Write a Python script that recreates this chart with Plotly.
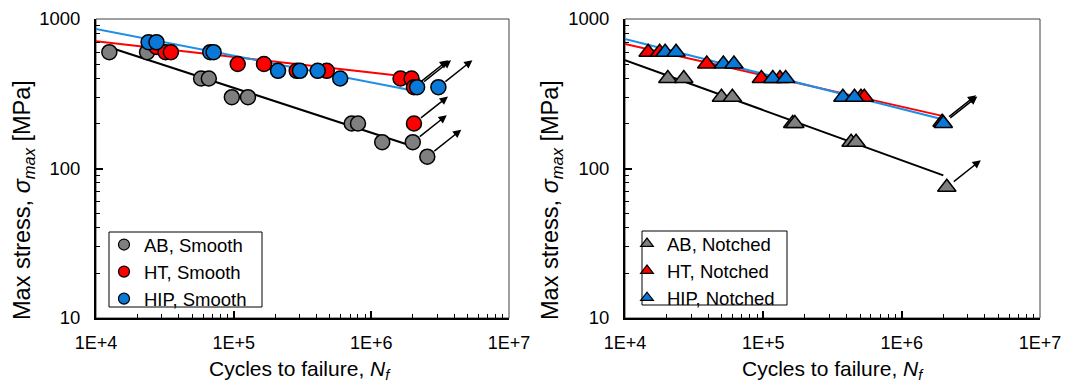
import numpy as np
import plotly.graph_objects as go

# ---------------- data ----------------
# Left panel: smooth specimens
ab_s_N = [12500, 23500, 58000, 66000, 97000, 127000, 720000, 800000, 1200000, 2000000, 2550000]
ab_s_S = [600, 600, 400, 400, 300, 300, 200, 200, 150, 150, 120]
ab_s_run = [False, False, False, False, False, False, False, False, False, True, True]

ht_s_N = [27500, 32000, 35000, 107000, 166000, 287000, 475000, 1630000, 1960000, 2040000, 2040000]
ht_s_S = [650, 600, 600, 500, 500, 450, 450, 400, 400, 350, 200]
ht_s_run = [False, False, False, False, False, False, False, False, False, True, True]

hip_s_N = [24100, 27500, 67600, 71500, 210000, 303000, 408000, 594000, 2150000, 3070000]
hip_s_S = [700, 700, 600, 600, 450, 450, 450, 400, 350, 350]
hip_s_run = [False, False, False, False, False, False, False, False, True, True]

# fitted lines (endpoints) left
ab_s_fitN = [12000, 2000000]
ab_s_fitS = [655, 141]
ht_s_fitN = [10000, 2000000]
ht_s_fitS = [710, 408]
hip_s_fitN = [10000, 2040000]
hip_s_fitS = [857, 331]

# Right panel: notched specimens
ab_n_N = [20400, 26600, 49800, 59700, 163000, 169000, 431000, 468000, 2120000]
ab_n_S = [400, 400, 300, 300, 200, 200, 150, 150, 75]
ab_n_run = [False] * 8 + [True]

ht_n_N = [14700, 17800, 39000, 96800, 132000, 508000, 537000, 1960000]
ht_n_S = [600, 600, 500, 400, 400, 300, 300, 204]
ht_n_run = [False] * 7 + [True]

hip_n_N = [19500, 23400, 51400, 61300, 117000, 145000, 376000, 456000, 2000000]
hip_n_S = [600, 600, 500, 500, 400, 400, 300, 300, 200]
hip_n_run = [False] * 8 + [True]

ab_n_fitN = [10000, 2000000]
ab_n_fitS = [531, 90]
ht_n_fitN = [10000, 2000000]
ht_n_fitS = [680, 224]
hip_n_fitN = [10000, 2000000]
hip_n_fitS = [735, 213]

x_tickvals = [1e4, 1e5, 1e6, 1e7]
x_ticktext = ["1E+4", "1E+5", "1E+6", "1E+7"]
y_tickvals = [10, 100, 1000]
y_ticktext = ["10", "100", "1000"]

# ---------------- styling ----------------
# The page body has an 8px margin, so the figure is sized to fill the rest of the window
OFF = 8
W, H = 1069 - OFF, 384 - OFF
FONT = "Liberation Sans, Arial, sans-serif"
GRAY, RED, BLUE = "#7f7f7f", "#ff0000", "#0a78d6"
BLUE_LINE = "#1e8ee6"

def fx(px):  # window pixel -> paper fraction
    return (px - OFF) / W

def fy(py):
    return 1 - (py - OFF) / H

xdom1 = [fx(96), fx(509)]
xdom2 = [fx(625), fx(1040)]
ydom = [fy(318), fy(19)]

fig = go.Figure()

def add_line(N, S, color, xa, ya):
    fig.add_trace(go.Scatter(x=N, y=S, mode="lines", line=dict(color=color, width=2),
                             xaxis=xa, yaxis=ya, showlegend=False, hoverinfo="skip"))

def add_pts(N, S, color, symbol, size, xa, ya):
    fig.add_trace(go.Scatter(x=N, y=S, mode="markers",
                             marker=dict(color=color, symbol=symbol, size=size,
                                         line=dict(color="black", width=1.5)),
                             xaxis=xa, yaxis=ya, showlegend=False))

def add_legend_entry(name, color, symbol, size, legend):
    fig.add_trace(go.Scatter(x=[None], y=[None], mode="markers", name=name,
                             marker=dict(color=color, symbol=symbol, size=size,
                                         line=dict(color="black", width=1.2)),
                             legend=legend))

# left panel
add_line(ab_s_fitN, ab_s_fitS, "black", "x", "y")
add_line(ht_s_fitN, ht_s_fitS, RED, "x", "y")
add_line(hip_s_fitN, hip_s_fitS, BLUE_LINE, "x", "y")
add_pts(ab_s_N, ab_s_S, GRAY, "circle", 15, "x", "y")
add_pts(ht_s_N, ht_s_S, RED, "circle", 15, "x", "y")
add_pts(hip_s_N, hip_s_S, BLUE, "circle", 15, "x", "y")

# right panel
add_line(ab_n_fitN, ab_n_fitS, "black", "x2", "y2")
add_line(ht_n_fitN, ht_n_fitS, RED, "x2", "y2")
add_line(hip_n_fitN, hip_n_fitS, BLUE_LINE, "x2", "y2")
add_pts(ab_n_N, ab_n_S, GRAY, "triangle-up", 16, "x2", "y2")
add_pts(ht_n_N, ht_n_S, RED, "triangle-up", 16, "x2", "y2")
add_pts(hip_n_N, hip_n_S, BLUE, "triangle-up", 16, "x2", "y2")

# legends
add_legend_entry("AB, Smooth", GRAY, "circle", 11, "legend")
add_legend_entry("HT, Smooth", RED, "circle", 11, "legend")
add_legend_entry("HIP, Smooth", BLUE, "circle", 11, "legend")
add_legend_entry("AB, Notched", GRAY, "triangle-up", 11, "legend2")
add_legend_entry("HT, Notched", RED, "triangle-up", 11, "legend2")
add_legend_entry("HIP, Notched", BLUE, "triangle-up", 11, "legend2")

# run-out arrows
ARROW_DX, ARROW_DY = 34, 27  # pixels
annotations = []
def add_arrows(N, S, run, xref, yref, xdom):
    ppx = (xdom[1] - xdom[0]) * W / 3.0
    ppy = (ydom[1] - ydom[0]) * H / 2.0
    for n, s, r in zip(N, S, run):
        if not r:
            continue
        annotations.append(dict(
            x=np.log10(n) + ARROW_DX / ppx, y=np.log10(s) + ARROW_DY / ppy,
            xref=xref, yref=yref, ax=-ARROW_DX, ay=ARROW_DY, axref="pixel", ayref="pixel",
            showarrow=True, arrowhead=2, arrowsize=1.1, arrowwidth=1.5, arrowcolor="black",
            startstandoff=7, text=""))

add_arrows(ab_s_N, ab_s_S, ab_s_run, "x", "y", xdom1)
add_arrows(ht_s_N, ht_s_S, ht_s_run, "x", "y", xdom1)
add_arrows(hip_s_N, hip_s_S, hip_s_run, "x", "y", xdom1)
add_arrows(ab_n_N, ab_n_S, ab_n_run, "x2", "y2", xdom2)
add_arrows(ht_n_N, ht_n_S, ht_n_run, "x2", "y2", xdom2)
add_arrows(hip_n_N, hip_n_S, hip_n_run, "x2", "y2", xdom2)

# axis titles
for cx, cy in [(300, 370), (833, 370)]:
    annotations.append(dict(x=fx(cx), y=fy(cy), xref="paper", yref="paper",
                            text="Cycles to failure, <i>N<sub>f</sub></i>", showarrow=False,
                            font=dict(family=FONT, size=21, color="black"),
                            xanchor="center", yanchor="middle"))
for cx, cy in [(24, 200), (552, 200)]:
    annotations.append(dict(x=fx(cx), y=fy(cy), xref="paper", yref="paper",
                            text="Max stress, <i>σ<sub>max</sub></i> [MPa]", showarrow=False,
                            textangle=-90, font=dict(family=FONT, size=23.5, color="black"),
                            xanchor="center", yanchor="middle", borderpad=0))

minor_x = [m * 10 ** k for k in range(4, 7) for m in range(2, 10)]
minor_y = [m * 10 ** k for k in range(1, 3) for m in range(2, 10)]

def xaxis(dom, anchor):
    return dict(type="log", domain=dom, range=[4, 7], anchor=anchor, automargin=False,
                tickvals=x_tickvals, ticktext=x_ticktext, ticks="inside", ticklen=7,
                tickwidth=1.5, tickcolor="black", showgrid=False, zeroline=False,
                showline=True, linecolor="black", linewidth=2, mirror=False,
                ticklabelstandoff=7,
                tickfont=dict(family=FONT, size=18, color="black"),
                minor=dict(tickvals=minor_x, ticks="inside", ticklen=4, tickwidth=1,
                           tickcolor="black", showgrid=False))

def yaxis(anchor):
    return dict(type="log", domain=ydom, range=[1, 3], anchor=anchor, automargin=False,
                tickvals=y_tickvals, ticktext=y_ticktext, ticks="inside", ticklen=7,
                tickwidth=1.5, tickcolor="black", showgrid=False, zeroline=False,
                showline=True, linecolor="black", linewidth=2, mirror=False,
                ticklabelstandoff=10,
                tickfont=dict(family=FONT, size=18.5, color="black"),
                minor=dict(tickvals=minor_y, ticks="inside", ticklen=4, tickwidth=1,
                           tickcolor="black", showgrid=False))

shapes = []
for xr, yr in [("x domain", "y domain"), ("x2 domain", "y2 domain")]:
    shapes.append(dict(type="rect", xref=xr, yref=yr, x0=0, x1=1, y0=0, y1=1,
                       line=dict(color="#404040", width=1), layer="below"))
# legend boxes
for x0, x1, y0, y1 in [(109, 262, 232, 307), (642, 787, 231, 305)]:
    shapes.append(dict(type="rect", xref="paper", yref="paper",
                       x0=fx(x0), x1=fx(x1), y0=fy(y1), y1=fy(y0),
                       line=dict(color="black", width=1), fillcolor="white", layer="below"))

legfont = dict(family=FONT, size=18.5, color="black")
fig.update_layout(
    width=W, height=H, margin=dict(l=0, r=0, t=0, b=0, pad=0, autoexpand=False),
    paper_bgcolor="white", plot_bgcolor="white",
    font=dict(family=FONT, color="black"),
    xaxis=xaxis(xdom1, "y"), yaxis=yaxis("x"),
    xaxis2=xaxis(xdom2, "y2"), yaxis2=yaxis("x2"),
    annotations=annotations, shapes=shapes,
    legend=dict(x=fx(104), y=fy(226), xanchor="left", yanchor="top",
                bgcolor="rgba(0,0,0,0)", borderwidth=0, font=legfont,
                tracegroupgap=0, itemwidth=30),
    legend2=dict(x=fx(627), y=fy(225), xanchor="left", yanchor="top",
                 bgcolor="rgba(0,0,0,0)", borderwidth=0, font=legfont,
                 tracegroupgap=0, itemwidth=30),
    showlegend=True,
)

fig.write_html("out.html")
